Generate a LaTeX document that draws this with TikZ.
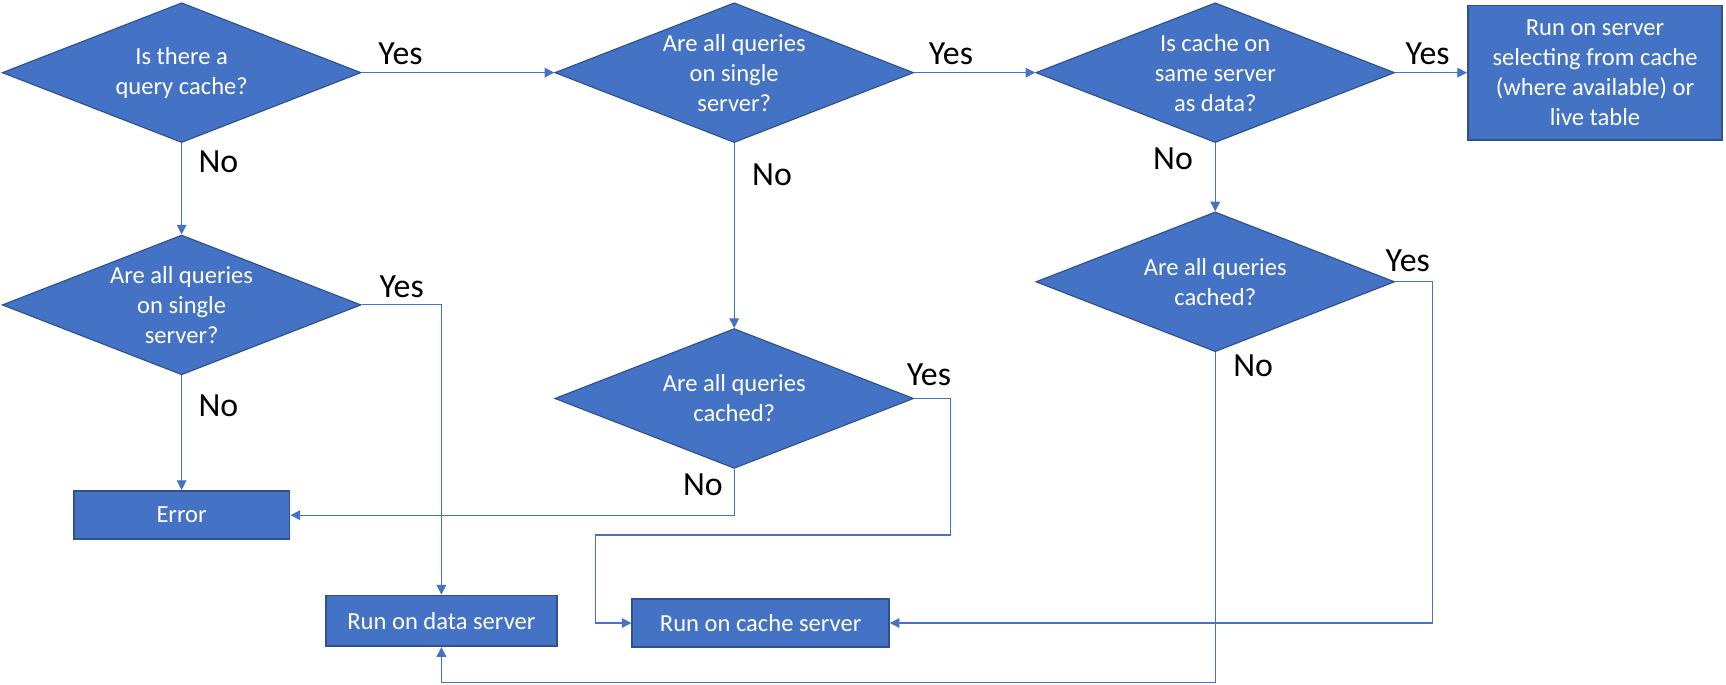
\documentclass[tikz,border=0pt]{standalone}
\usepackage{fontspec}
\setmainfont{Carlito}
\usetikzlibrary{positioning,arrows.meta,shapes.geometric}
\definecolor{boxblue}{RGB}{68,114,196}
\definecolor{boxedge}{RGB}{47,82,143}
\definecolor{lineblue}{RGB}{68,114,196}
\newcommand{\qfont}{\fontsize{12.7}{15.5}\selectfont}
\newcommand{\ansfont}{\fontsize{17.5}{21}\selectfont}

\begin{document}
\begin{tikzpicture}[x=0.02cm,y=-0.02cm,>={Triangle[length=5pt,width=5pt]},
    decision/.style={diamond,aspect=2.58,draw=boxedge,fill=boxblue,text=white,font=\qfont,align=center,inner xsep=0pt,inner ysep=-6pt,minimum width=6.52cm,minimum height=2.54cm,line width=0.6pt},
    outcome/.style={rectangle,draw=boxedge,fill=boxblue,text=white,font=\qfont,align=center,line width=1pt},
    answer/.style={font=\ansfont,inner sep=0pt},
    flow/.style={->,draw=lineblue,line width=0.6pt}]
    \useasboundingbox (0,0) rectangle (1568,622);
    % questions
    \node[decision] (q1) at (165,66) {Is there a\\query cache?};
    \node[decision] (q2) at (667,66) {Are all queries\\on single\\server?};
    \node[decision] (q3) at (1104,66) {Is cache on\\same server\\as data?};
    \node[decision] (q4) at (165,277) {Are all queries\\on single\\server?};
    \node[decision] (q5) at (667,362) {Are all queries\\cached?};
    \node[decision] (q6) at (1104,256) {Are all queries\\cached?};
    % outcomes
    \node[outcome,minimum width=4.62cm,minimum height=2.44cm] (srv) at (1449,66) {Run on server\\selecting from cache\\(where available) or\\live table};
    \node[outcome,minimum width=3.92cm,minimum height=0.88cm] (err) at (165,468) {Error};
    \node[outcome,minimum width=4.2cm,minimum height=0.92cm] (data) at (401,564) {Run on data server};
    \node[outcome,minimum width=4.66cm,minimum height=0.88cm] (cache) at (691,566) {Run on cache server};
    \coordinate (bendA) at (541,486);
    \coordinate (bendB) at (401,620);
    % connectors
    \draw[flow] (q1.east) -- (q2.west);
    \draw[flow] (q2.east) -- (q3.west);
    \draw[flow] (q3.east) -- (srv.west);
    \draw[flow] (q1.south) -- (q4.north);
    \draw[flow] (q2.south) -- (q5.north);
    \draw[flow] (q3.south) -- (q6.north);
    \draw[flow] (q4.south) -- (err.north);
    \draw[flow] (q4.east) -| (data.north);
    \draw[flow] (q5.south) |- (err.east);
    \draw[flow] (q5.east) -- ++(33,0) |- (bendA) |- (cache.west);
    \draw[flow] (q6.east) -- ++(34,0) |- (cache.east);
    \draw[flow] (q6.south) |- (bendB) -- (data.south);
    % yes / no
    \node[answer,above right=0.13cm and 0.3cm of q1.east] (y1) {Yes};
    \node[answer,below right=0.14cm and 0.3cm of q1.south] (n1) {No};
    \node[answer,above right=0.14cm and 0.26cm of q2.east] (y2) {Yes};
    \node[answer,below right=0.36cm and 0.32cm of q2.south] (n2) {No};
    \node[answer,above right=0.14cm and 0.18cm of q3.east] (y3) {Yes};
    \node[answer,below left=0.08cm and 0.4cm of q3.south] (n3) {No};
    \node[answer,above right=0.12cm and 0.32cm of q4.east] (y4) {Yes};
    \node[answer,below right=0.34cm and 0.3cm of q4.south] (n4) {No};
    \node[answer,above right=0.22cm and -0.14cm of q5.east] (y5) {Yes};
    \node[answer,below left=0.08cm and 0.2cm of q5.south] (n5) {No};
    \node[answer,above right=0.18cm and -0.18cm of q6.east] (y6) {Yes};
    \node[answer,below right=0.04cm and 0.32cm of q6.south] (n6) {No};
\end{tikzpicture}
\end{document}
